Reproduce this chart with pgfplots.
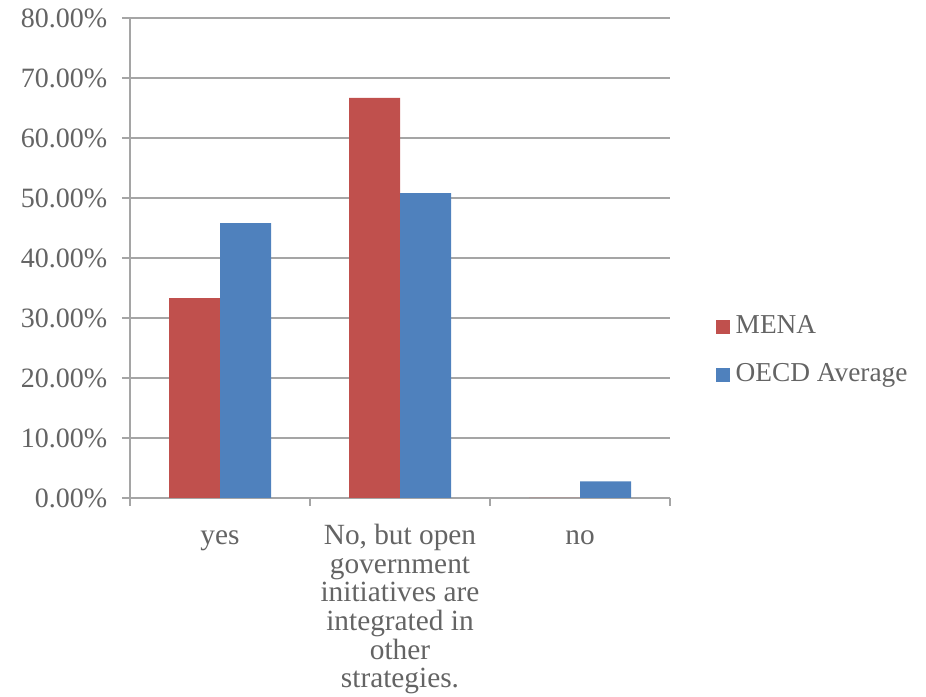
\documentclass[border=0pt]{standalone}
\usepackage{fontspec}
\setmainfont{Liberation Serif}
\usepackage{pgfplots}
\pgfplotsset{compat=1.18}
\definecolor{menared}{RGB}{192,80,77}
\definecolor{oecdblue}{RGB}{79,129,189}
\definecolor{gridgray}{RGB}{165,165,165}
\definecolor{txtgray}{RGB}{100,100,100}

\begin{document}
\begin{tikzpicture}
\begin{axis}[
  scale only axis, width=405pt, height=360pt,
  ybar=0pt, bar width=38.25pt,
  xmin=-0.5, xmax=2.5, ymin=0, ymax=80,
  xtick={-0.5,0.5,1.5,2.5},
  x tick label as interval,
  xticklabels={\strut yes,{\strut No, but open\\government\\initiatives are\\integrated in\\other\\strategies.}, \strut no},
  x tick label style={font=\fontsize{22}{21.5}\selectfont, align=center, text=txtgray, yshift=-10pt},
  ytick={0,10,...,80},
  yticklabels={0.00\%,10.00\%,20.00\%,30.00\%,40.00\%,50.00\%,60.00\%,70.00\%,80.00\%},
  y tick label style={font=\fontsize{21}{24}\selectfont, text=txtgray, xshift=-7.5pt},
  ymajorgrids,
  grid style={gridgray, line width=1.1pt},
  axis x line*=bottom, axis y line*=left,
  axis line style={-, gridgray, line width=1.1pt},
  tick align=outside, major tick length=6pt,
  tick style={gridgray, line width=1.1pt},
  legend style={at={(1.078,0.306)}, anchor=west, draw=none, fill=none,
    font=\fontsize{20.5}{24}\selectfont, text=txtgray, row sep=18pt,
    nodes={inner sep=0pt, text height=14pt, text depth=4pt},
    /tikz/every odd column/.append style={column sep=4pt}},
  legend cell align=left,
]
\addplot[fill=menared, draw=none,
  legend image code/.code={\fill[menared] (0pt,-5.25pt) rectangle (10.5pt,5.25pt);}]
  coordinates {(0,33.33) (1,66.67) (2,0)};
\addlegendentry{MENA}
\addplot[fill=oecdblue, draw=none,
  legend image code/.code={\fill[oecdblue] (0pt,-5.25pt) rectangle (10.5pt,5.25pt);}]
  coordinates {(0,45.83) (1,50.83) (2,2.78)};
\addlegendentry{OECD Average}
\end{axis}
\pgfresetboundingbox
\path[use as bounding box] ([shift={(-97.5pt,-149.25pt)}]current axis.south west)
  rectangle ([shift={(192pt,13.5pt)}]current axis.north east);
\end{tikzpicture}
\end{document}
